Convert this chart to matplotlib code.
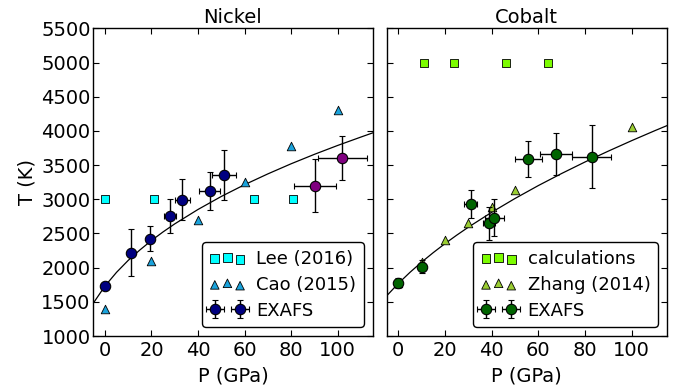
import matplotlib
matplotlib.use("Agg")
import matplotlib.pyplot as plt

# ---------------- data ----------------
# Nickel
ni_lee_p = [0, 21, 64, 81]
ni_lee_t = [3000, 3000, 3000, 3000]
ni_cao_p = [0, 20, 40, 60, 80, 100]
ni_cao_t = [1400, 2100, 2700, 3250, 3780, 4300]
ni_exafs_p = [0, 11.3, 19.3, 28.1, 33.3, 45.1, 51.1]
ni_exafs_t = [1734, 2221, 2420, 2757, 2995, 3122, 3350]
ni_exafs_perr = [0, 0.5, 0.5, 2.6, 3.2, 4.5, 5.3]
ni_exafs_terr = [0, 341, 182, 244, 302, 275, 365]
ni_hi_p = [90.1, 102]
ni_hi_t = [3200, 3604]
ni_hi_perr = [9, 10.4]
ni_hi_terr = [382, 321]
ni_fit_p = [-5, 0, 5, 10, 15, 20, 25, 30, 40, 50, 60, 70, 80, 90, 100, 110, 115]
ni_fit_t = [1480, 1730, 1932, 2106, 2258, 2397, 2523, 2640, 2851, 3041, 3213,
            3371, 3519, 3657, 3787, 3910, 3970]

# Cobalt
co_calc_p = [11, 24, 46, 64]
co_calc_t = [5000, 5000, 5000, 5000]
co_zhang_p = [0, 10, 20, 30, 40, 50, 100]
co_zhang_t = [1768, 2080, 2400, 2660, 2880, 3130, 4060]
co_exafs_p = [0, 10, 31.1, 38.9, 41.1, 55.7, 67.7, 82.9]
co_exafs_t = [1773, 2016, 2931, 2649, 2731, 3589, 3662, 3623]
co_exafs_perr = [0, 1, 2.8, 2.5, 4.1, 5.7, 6.9, 8.4]
co_exafs_terr = [70, 100, 207, 240, 275, 260, 307, 460]
co_fit_p = [-5, 0, 5, 10, 15, 20, 25, 30, 40, 50, 60, 70, 80, 90, 100, 110, 115]
co_fit_t = [1587, 1768, 1931, 2081, 2220, 2351, 2474, 2591, 2809, 3011, 3200,
            3377, 3545, 3704, 3857, 4004, 4075]

x_ticks = [0, 20, 40, 60, 80, 100]
y_ticks = list(range(1000, 5501, 500))

# ---------------- style ----------------
plt.rcParams.update({
    "font.family": ["DejaVu Sans"],
    "font.size": 14,
    "xtick.labelsize": 14,
    "ytick.labelsize": 14,
    "xtick.direction": "in",
    "ytick.direction": "in",
    "xtick.top": True,
    "ytick.right": True,
    "xtick.major.size": 4,
    "ytick.major.size": 4,
    "xtick.major.pad": 3.5,
    "ytick.major.pad": 2,
    "axes.linewidth": 1.0,
    "legend.numpoints": 2,
    "legend.scatterpoints": 3,
})

fig = plt.figure(figsize=(6.82, 3.88), dpi=100)
ax1 = fig.add_axes([0.1368, 0.134, 0.4095, 0.793])
ax2 = fig.add_axes([0.5669, 0.134, 0.4106, 0.793], sharey=ax1)

eb_kw = dict(fmt="o", ms=7.5, mec="black", mew=0.8, ecolor="black",
             elinewidth=1.0, capsize=2.5, capthick=1.0, zorder=3)
leg_kw = dict(loc="lower right", fancybox=True, fontsize=13, handletextpad=0.6,
              borderpad=0.4, labelspacing=0.45, framealpha=1, edgecolor="black")

# Nickel
ax1.plot(ni_fit_p, ni_fit_t, color="black", lw=0.9, zorder=1)
ax1.scatter(ni_lee_p, ni_lee_t, marker="s", s=40, c="cyan", edgecolors="black",
            linewidths=0.6, label="Lee (2016)", zorder=2)
ax1.scatter(ni_cao_p, ni_cao_t, marker="^", s=38, c="#1aa3dc", edgecolors="black",
            linewidths=0.6, label="Cao (2015)", zorder=2)
ax1.errorbar(ni_exafs_p, ni_exafs_t, xerr=ni_exafs_perr, yerr=ni_exafs_terr,
             mfc="navy", label="EXAFS", **eb_kw)
ax1.errorbar(ni_hi_p, ni_hi_t, xerr=ni_hi_perr, yerr=ni_hi_terr,
             mfc="purple", **eb_kw)
ax1.set_title("Nickel", fontsize=14, pad=4)
ax1.set_xlabel("P (GPa)", labelpad=5)
ax1.set_ylabel("T (K)", labelpad=3)
ax1.legend(**leg_kw)

# Cobalt
ax2.plot(co_fit_p, co_fit_t, color="black", lw=0.9, zorder=1)
ax2.scatter(co_calc_p, co_calc_t, marker="s", s=40, c="lawngreen", edgecolors="black",
            linewidths=0.6, label="calculations", zorder=2)
ax2.scatter(co_zhang_p, co_zhang_t, marker="^", s=38, c="yellowgreen", edgecolors="black",
            linewidths=0.6, label="Zhang (2014)", zorder=2)
ax2.errorbar(co_exafs_p, co_exafs_t, xerr=co_exafs_perr, yerr=co_exafs_terr,
             mfc="darkgreen", label="EXAFS", **eb_kw)
ax2.set_title("Cobalt", fontsize=14, pad=4)
ax2.set_xlabel("P (GPa)", labelpad=5)
ax2.tick_params(labelleft=False)
ax2.legend(**leg_kw)

for ax in (ax1, ax2):
    ax.set_xlim(-5, 115)
    ax.set_xticks(x_ticks)
    ax.set_yticks(y_ticks)
ax1.set_ylim(1000, 5500)

fig.savefig("out.png", dpi=100, facecolor="white")
